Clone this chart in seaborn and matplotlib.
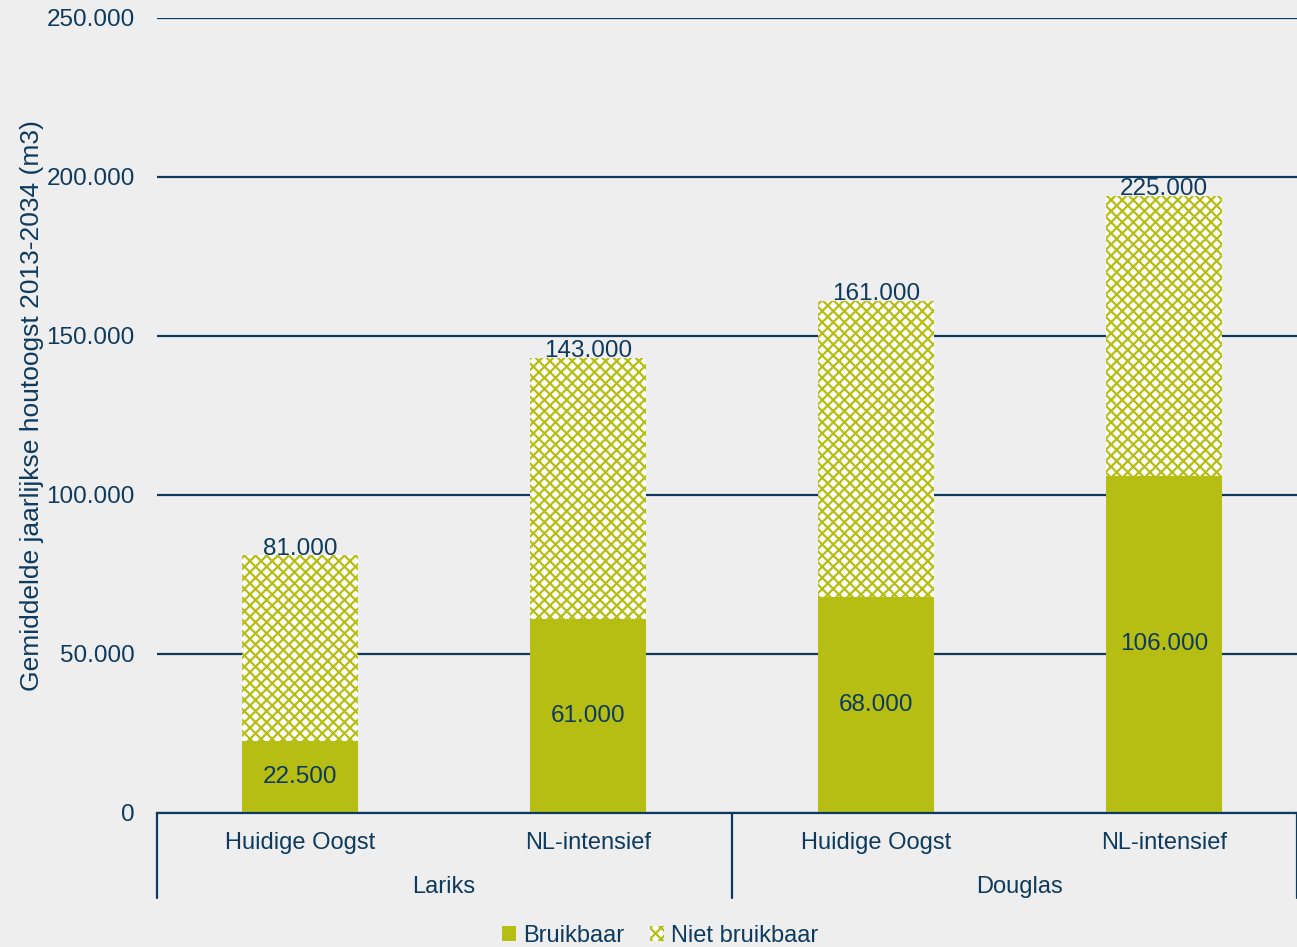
import matplotlib
matplotlib.use("Agg")
import matplotlib.pyplot as plt
import matplotlib.patches as mpatches
import matplotlib.transforms as mtransforms
import seaborn as sns
import pandas as pd

# ============================================================
# Data
# ============================================================

groups = ["Lariks", "Lariks", "Douglas", "Douglas"]
scenarios = ["Huidige Oogst", "NL-intensief", "Huidige Oogst", "NL-intensief"]
bruikbaar = [22500, 61000, 68000, 106000]
niet_bruikbaar = [58500, 82000, 93000, 88000]
total_labels = [81000, 143000, 161000, 225000]
yticks = [0, 50000, 100000, 150000, 200000, 250000]

NAVY = "#0d3a5e"
GREEN = "#b6be14"

df = pd.DataFrame({
    "key": [g + "|" + s for g, s in zip(groups, scenarios)],
    "bruikbaar": bruikbaar,
    "totaal": [b + n for b, n in zip(bruikbaar, niet_bruikbaar)],
})


def fmt(v):
    return f"{v:,.0f}".replace(",", ".")


# ============================================================
# Plot
# ============================================================

sns.set_style("white")
plt.rcParams["font.family"] = ["Liberation Sans", "DejaVu Sans"]
plt.rcParams["hatch.linewidth"] = 1.6

fig = plt.figure(figsize=(12.97, 9.47), dpi=100)
fig.patch.set_facecolor("#eeeeee")
ax = fig.add_axes([0.121, 0.1415, 0.879, 0.8395])
ax.set_facecolor("none")

# hatched "niet bruikbaar" drawn as full height, bruikbaar on top
sns.barplot(data=df, x="key", y="totaal", color="white", width=0.4,
            edgecolor=GREEN, linewidth=0, hatch="xxx", saturation=1, ax=ax)
sns.barplot(data=df, x="key", y="bruikbaar", color=GREEN, width=0.4,
            linewidth=0, saturation=1, ax=ax)

ax.set_ylim(0, 250000)
ax.set_xlim(-0.497, 3.462)
ax.set_yticks(yticks)
ax.set_yticklabels([fmt(v) for v in yticks], color=NAVY, fontsize=17.5)
ax.yaxis.grid(True, color=NAVY, linewidth=1.6)
ax.set_axisbelow(True)
ax.tick_params(axis="y", length=0, pad=16)
ax.tick_params(axis="x", length=0, pad=14)
ax.set_xticks(range(len(scenarios)))
ax.set_xticklabels(scenarios, color=NAVY, fontsize=17)
ax.set_xlabel("")
ax.set_ylabel("Gemiddelde jaarlijkse houtoogst 2013-2034 (m3)", color=NAVY,
              fontsize=19)
ax.yaxis.set_label_coords(-0.099, 0.513)

for side in ["top", "right", "left"]:
    ax.spines[side].set_visible(False)
ax.spines["bottom"].set_color(NAVY)
ax.spines["bottom"].set_linewidth(1.6)

# data labels
for i, (b, t, lab) in enumerate(zip(df["bruikbaar"], df["totaal"], total_labels)):
    ax.text(i, b / 2, fmt(b), ha="center", va="center", color=NAVY, fontsize=17.5)
    ax.annotate(fmt(lab), (i, t), xytext=(0, -3), textcoords="offset points",
                ha="center", va="bottom", color=NAVY, fontsize=17.5)

# group labels and separators below the axis
trans = mtransforms.blended_transform_factory(ax.transData, ax.transAxes)
for x in [-0.497, 1.5, 3.462]:
    ax.plot([x, x], [0, -0.107], color=NAVY, linewidth=1.6, transform=trans,
            clip_on=False)
for center, name in [(0.5, "Lariks"), (2.5, "Douglas")]:
    ax.text(center, -0.093, name, transform=trans, ha="center", va="center",
            color=NAVY, fontsize=17)

# legend
handles = [
    mpatches.Patch(facecolor=GREEN, edgecolor=GREEN, linewidth=0, label="Bruikbaar"),
    mpatches.Patch(facecolor="white", edgecolor=GREEN, linewidth=0, hatch="xxx",
                   label="Niet bruikbaar"),
]
fig.legend(handles=handles, loc="lower center", bbox_to_anchor=(0.509, -0.022),
           ncol=2, frameon=False, fontsize=17, handlelength=0.6,
           handleheight=0.6, handletextpad=0.3, columnspacing=1.1,
           labelcolor=NAVY)

plt.savefig("out.png", dpi=100, facecolor=fig.get_facecolor())
